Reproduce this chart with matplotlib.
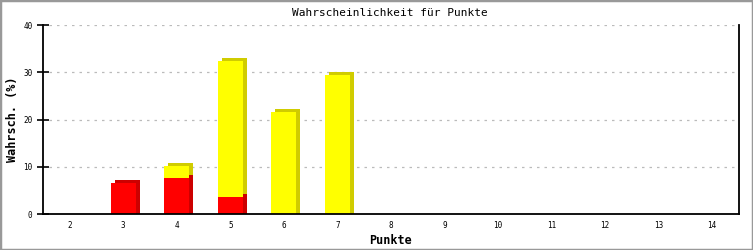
import matplotlib
matplotlib.use("Agg")
import matplotlib.pyplot as plt
from matplotlib.transforms import ScaledTranslation
from matplotlib.patches import Rectangle

categories = ["2", "3", "4", "5", "6", "7", "8", "9", "10", "11", "12", "13", "14"]
red_values = [0, 6.6, 7.6, 3.6, 0, 0, 0, 0, 0, 0, 0, 0, 0]
yellow_values = [0, 0, 2.6, 28.8, 21.7, 29.4, 0, 0, 0, 0, 0, 0, 0]
y_ticks = [0, 10, 20, 30, 40]

W, H = 753, 250
fig = plt.figure(figsize=(W / 100, H / 100), dpi=100)
ax = fig.add_axes([43 / W, 1 - 214 / H, (738.7 - 43) / W, (214 - 25.3) / H])

mono = "DejaVu Sans Mono"
x = list(range(len(categories)))
width = 0.47

red_c, red_s = "#ff0000", "#cc0000"
yel_c, yel_s = "#ffff00", "#d0cc00"

dx_px, dy_px = 4, 3
shadow = ax.transData + ScaledTranslation(dx_px / 100, dy_px / 100, fig.dpi_scale_trans)
px_per_unit = (214 - 25.3) / 40
base_off = dy_px / px_per_unit

# shadows (side/top faces)
for i in x:
    r = red_values[i]
    yv = yellow_values[i]
    if r > 0:
        ax.bar(i, r + base_off, bottom=-base_off, width=width, color=red_s,
               transform=shadow, zorder=2, linewidth=0)
    if yv > 0:
        b = r if r > 0 else -base_off
        ax.bar(i, r + yv - b, bottom=b, width=width, color=yel_s,
               transform=shadow, zorder=2, linewidth=0)
# fronts
ax.bar(x, red_values, width=width, color=red_c, zorder=3, linewidth=0)
ax.bar(x, yellow_values, bottom=red_values, width=width, color=yel_c, zorder=3, linewidth=0)

ax.set_xlim(-0.5, len(categories) - 0.5)
ax.set_ylim(0, 40)
ax.set_xticks(x)
ax.set_xticklabels(categories, fontfamily=mono, fontsize=5.5)
ax.set_yticks(y_ticks)
ax.set_yticklabels([str(t) for t in y_ticks], fontfamily=mono, fontsize=5.5)
ax.tick_params(axis="x", length=0, pad=5)
ax.tick_params(axis="y", direction="inout", length=9, width=1.2, pad=3)

for yt in y_ticks[1:]:
    ax.plot([0.008, 0.995], [yt, yt], transform=ax.get_yaxis_transform(),
            color="#bbbbbb", linestyle=(0, (2, 4)), linewidth=0.9, zorder=1)

ax.spines["top"].set_visible(False)
for s in ["left", "right", "bottom"]:
    ax.spines[s].set_linewidth(1.3)
    ax.spines[s].set_color("black")
ax.spines["bottom"].set_zorder(5)

fig.text(390 / W, 1 - 240 / H, "Punkte", fontfamily=mono, fontsize=8.5,
         fontweight="bold", ha="center", va="center")
fig.text(13 / W, 1 - 119 / H, "Wahrsch. (%)", fontfamily=mono, fontsize=8.5,
         fontweight="bold", ha="center", va="center", rotation=90)
fig.text(390 / W, 1 - 13 / H, "Wahrscheinlichkeit für Punkte", fontfamily=mono,
         fontsize=8, ha="center", va="center")

fig.patches.append(Rectangle((0, 0), 1, 1, transform=fig.transFigure, fill=False,
                             edgecolor="#999999", linewidth=2.5))

fig.savefig("out.png", dpi=100)
